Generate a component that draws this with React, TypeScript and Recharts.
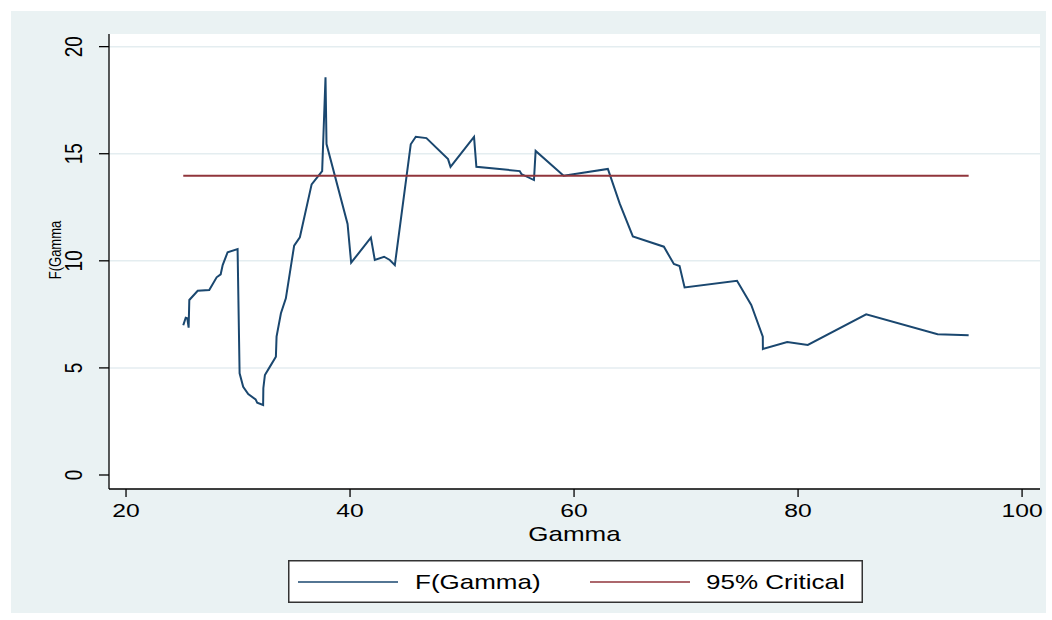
import React from "react";
import { CartesianGrid, Line, LineChart, XAxis, YAxis } from "recharts";

// gamma grid and the F statistic
const gamma = [
  25.11, 25.33, 25.47, 25.59, 25.65, 26.4, 27.43, 28.09, 28.45, 28.63, 29.07, 29.96,
  30.14, 30.46, 30.91, 31.57, 31.71, 32.24, 32.26, 32.4, 32.85, 33.38, 33.44, 33.83,
  34.27, 35.01, 35.52, 36.57, 37.51, 37.81, 37.9, 39.78, 40.1, 41.86, 42.21, 43.04,
  43.55, 44.0, 45.42, 45.87, 46.82, 48.75, 48.97, 51.07, 51.28, 55.15, 55.3, 56.42,
  56.57, 59.07, 63.02, 64.07, 65.25, 68.02, 68.91, 69.42, 69.87, 74.55, 75.82, 76.85,
  76.86, 79.03, 80.87, 86.08, 92.46, 95.23,
];
const fGamma = [
  6.99, 7.34, 7.32, 6.88, 8.17, 8.6, 8.64, 9.23, 9.37, 9.8, 10.4, 10.55,
  4.75, 4.12, 3.78, 3.53, 3.38, 3.27, 4.05, 4.67, 5.06, 5.52, 6.46, 7.55,
  8.25, 10.71, 11.1, 13.57, 14.19, 18.57, 15.45, 11.72, 9.91, 11.08, 10.04, 10.19,
  10.04, 9.8, 15.44, 15.79, 15.73, 14.75, 14.39, 15.79, 14.39, 14.19, 14.05, 13.77,
  15.13, 13.97, 14.29, 12.68, 11.14, 10.66, 9.85, 9.76, 8.76, 9.07, 7.94, 6.46,
  5.88, 6.21, 6.07, 7.5, 6.57, 6.52,
];
const critGamma = [25.11, 95.23];
const critValue = 13.97;

const xTicks = [20, 40, 60, 80, 100];
const yTicks = [0, 5, 10, 15, 20];
const seriesNames = ["F(Gamma)", "95% Critical"];
const seriesColors = ["#1A476F", "#90353B"];

const fRows = gamma.map((g, i) => ({ gamma: g, f: fGamma[i] }));
const critRows = critGamma.map((g) => ({ gamma: g, crit: critValue }));

const FONT = "'Liberation Sans', Arial, sans-serif";
const STRETCH = 1.3;

const XTick = ({ x, y, payload }: any) => (
  <text
    transform={`translate(${x}, ${y + 18}) scale(${STRETCH},1)`}
    textAnchor="middle"
    fontFamily={FONT}
    fontSize={19}
    fill="#000"
  >
    {payload.value}
  </text>
);

const YTick = ({ x, y, payload }: any) => (
  <text
    transform={`translate(${x - 23}, ${y}) scale(${STRETCH},1) rotate(-90)`}
    textAnchor="middle"
    dominantBaseline="central"
    fontFamily={FONT}
    fontSize={19}
    fill="#000"
  >
    {payload.value}
  </text>
);

export default function App() {
  return (
    <div style={{ position: "absolute", left: 0, top: 0, width: 1052, height: 620, background: "#fff" }}>
      <div
        style={{ position: "absolute", left: 11, top: 11, width: 1035, height: 602, background: "#EAF2F3" }}
      />
      <div style={{ position: "absolute", left: 0, top: 0 }}>
        <LineChart width={1052} height={620} margin={{ top: 34, right: 12, left: 0, bottom: 0 }}>
          <CartesianGrid
            fill="#fff"
            stroke="#E4EDF0"
            strokeWidth={1.5}
            vertical={false}
            horizontalValues={[5, 10, 15, 20]}
          />
          <XAxis
            type="number"
            dataKey="gamma"
            domain={[18.48, 101.6]}
            allowDataOverflow
            ticks={xTicks}
            height={131}
            tickSize={8}
            tickMargin={2}
            stroke="#000"
            strokeWidth={1.3}
            tick={<XTick />}
            label={{
              value: "Gamma",
              content: ({ viewBox }: any) => (
                <text
                  transform={`translate(${viewBox.x + viewBox.width / 2}, ${viewBox.y + 52}) scale(${STRETCH},1)`}
                  textAnchor="middle"
                  fontFamily={FONT}
                  fontSize={20}
                  fill="#000"
                >
                  Gamma
                </text>
              ),
            }}
          />
          <YAxis
            type="number"
            domain={[-0.654, 20.59]}
            allowDataOverflow
            ticks={yTicks}
            width={109}
            tickSize={10}
            tickMargin={2}
            stroke="#000"
            strokeWidth={1.3}
            tick={<YTick />}
            label={{
              value: "F(Gamma",
              content: () => (
                <text
                  transform={`translate(55, 250) scale(${STRETCH},1) rotate(-90)`}
                  textAnchor="middle"
                  dominantBaseline="central"
                  fontFamily={FONT}
                  fontSize={13}
                  fill="#000"
                >
                  F(Gamma
                </text>
              ),
            }}
          />
          <Line
            data={fRows}
            dataKey="f"
            name={seriesNames[0]}
            stroke={seriesColors[0]}
            strokeWidth={2}
            dot={false}
            isAnimationActive={false}
          />
          <Line
            data={critRows}
            dataKey="crit"
            name={seriesNames[1]}
            stroke={seriesColors[1]}
            strokeWidth={2}
            dot={false}
            isAnimationActive={false}
          />
        </LineChart>
      </div>
      <svg
        style={{ position: "absolute", left: 288, top: 560 }}
        width={575}
        height={43}
      >
        <rect x={0.75} y={0.75} width={573.5} height={41.5} fill="#fff" stroke="#333" strokeWidth={1.5} />
        {seriesNames.map((name, i) => (
          <g key={name}>
            <line
              x1={10 + i * 292}
              x2={110 + i * 292}
              y1={22}
              y2={22}
              stroke={seriesColors[i]}
              strokeWidth={1.5}
            />
            <text
              transform={`translate(${127 + i * 291}, 29) scale(${STRETCH},1)`}
              fontFamily={FONT}
              fontSize={20}
              fill="#000"
            >
              {name}
            </text>
          </g>
        ))}
      </svg>
    </div>
  );
}
